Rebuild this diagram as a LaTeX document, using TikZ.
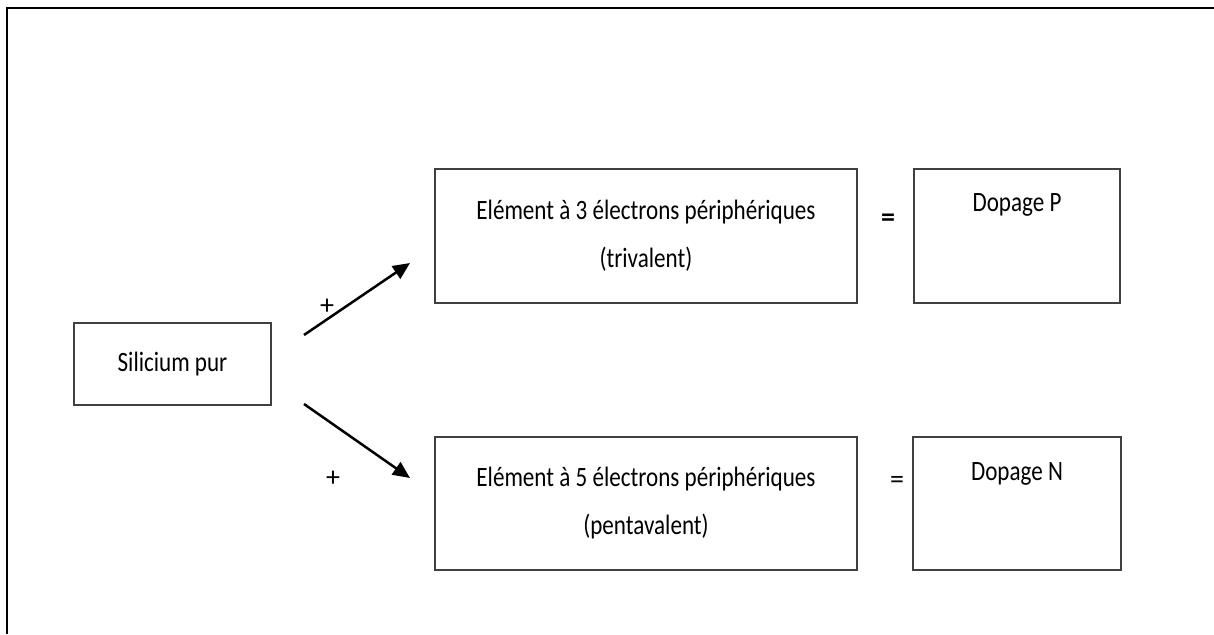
\documentclass[tikz,border=0pt]{standalone}
\usepackage{fontspec}
\setmainfont{Carlito}
\usetikzlibrary{arrows.meta}
\newcommand{\cnd}[1]{\scalebox{0.825}[1]{#1}}
\begin{document}
\begin{tikzpicture}[x=1pt,y=-1pt,
  box/.style={draw=black!75,line width=2pt,inner sep=0pt,align=center},
  txt/.style={font=\fontsize{28}{48}\selectfont},
  arr/.style={line width=2.5pt,-{Triangle[length=17pt,width=15pt]}}]
\useasboundingbox (0,0) rectangle (1214,634);
\draw[line width=2.8pt] (7,634) -- (7,8) -- (1214,8);
\node[box,txt,minimum width=197pt,minimum height=82pt] (si) at (172.5,364) {\cnd{Silicium pur}};
\node[box,txt,minimum width=422pt,minimum height=134pt] (tri) at (646,236) {\cnd{Elément à 3 électrons périphériques}\\\cnd{(trivalent)}};
\node[box,minimum width=206pt,minimum height=134pt,
  label={[txt,anchor=center,yshift=-37pt]north:\cnd{Dopage P}}] (dp) at (1017,236) {};
\node[box,txt,minimum width=422pt,minimum height=133pt] (pen) at (646,503.5) {\cnd{Elément à 5 électrons périphériques}\\\cnd{(pentavalent)}};
\node[box,minimum width=208pt,minimum height=133pt,
  label={[txt,anchor=center,yshift=-38pt]north:\cnd{Dopage N}}] (dn) at (1017,503.5) {};
\node[txt] (eq1) at (888,220) {\textbf{=}};
\node[txt] (eq2) at (897,482) {=};
\node[txt] (p1) at (327,307) {+};
\node[txt] (p2) at (333,479) {+};
\coordinate (a1s) at (304,335);
\coordinate (a1e) at (410,263);
\coordinate (a2s) at (304,404);
\coordinate (a2e) at (410,478);
\draw[arr] (a1s) -- (a1e);
\draw[arr] (a2s) -- (a2e);
\end{tikzpicture}
\end{document}
